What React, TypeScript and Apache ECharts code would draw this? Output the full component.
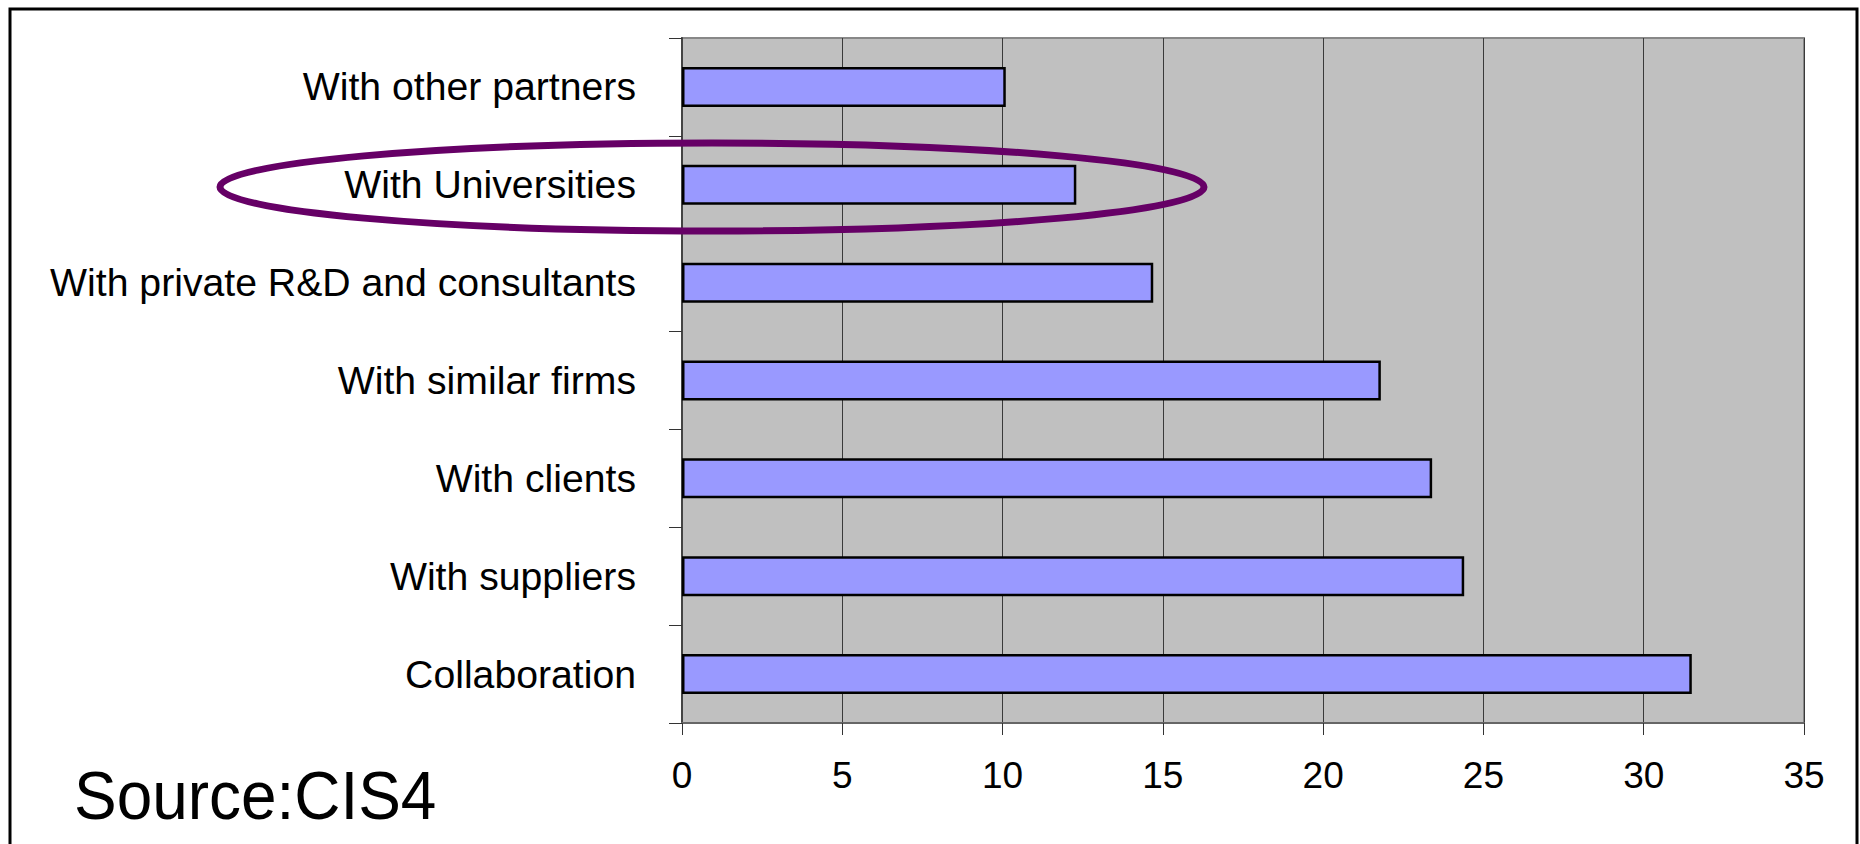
import React, { useEffect, useRef } from "react";
import * as echarts from "echarts";

// bottom-to-top order on the category axis
const categories = [
  "Collaboration",
  "With suppliers",
  "With clients",
  "With similar firms",
  "With private R&D and consultants",
  "With Universities",
  "With other partners",
];
const values = [31.5, 24.4, 23.4, 21.8, 14.7, 12.3, 10.1];
const xMin = 0;
const xMax = 35;
const xStep = 5;
const sourceLabel = "Source:CIS4";

const FONT = "'Liberation Sans', Arial, sans-serif";

export default function App() {
  const ref = useRef<HTMLDivElement>(null);
  useEffect(() => {
    document.body.style.margin = "0";
    const chart = echarts.init(ref.current!, null, { renderer: "svg" });
    chart.setOption({
      animation: false,
      backgroundColor: "#ffffff",
      grid: {
        left: 682,
        top: 38,
        right: 56,
        bottom: 121,
        show: true,
        backgroundColor: "#c0c0c0",
        borderColor: "#888888",
        borderWidth: 2,
      },
      xAxis: {
        type: "value",
        min: xMin,
        max: xMax,
        interval: xStep,
        axisLine: { show: true, lineStyle: { color: "#666666", width: 2 } },
        axisTick: { show: true, length: 12, lineStyle: { color: "#333333", width: 1 } },
        splitLine: { show: true, lineStyle: { color: "#3a3a3a", width: 1 } },
        axisLabel: {
          color: "#000000",
          fontSize: 37,
          fontFamily: FONT,
          margin: 34,
        },
      },
      yAxis: {
        type: "category",
        data: categories,
        axisLine: { show: true, lineStyle: { color: "#444444", width: 2 } },
        axisTick: { show: true, length: 13, lineStyle: { color: "#333333", width: 1 } },
        splitLine: { show: false },
        axisLabel: {
          color: "#000000",
          fontSize: 39.2,
          fontFamily: FONT,
          margin: 46,
        },
      },
      series: [
        {
          type: "bar",
          data: values,
          barWidth: 40,
          itemStyle: {
            color: "#9999ff",
            borderColor: "#000000",
            borderWidth: 2.5,
          },
        },
      ],
      graphic: [
        {
          type: "rect",
          z: 100,
          shape: { x: 10, y: 9, width: 1847, height: 900 },
          style: { fill: "transparent", stroke: "#000000", lineWidth: 3 },
          silent: true,
        },
        {
          type: "ellipse",
          z: 100,
          shape: { cx: 712, cy: 187, rx: 492, ry: 44 },
          style: { fill: "transparent", stroke: "#660066", lineWidth: 7 },
          silent: true,
        },
        {
          type: "text",
          z: 100,
          x: 74,
          y: 795,
          scaleX: 0.94,
          style: {
            text: sourceLabel,
            font: `68px ${FONT}`,
            fill: "#000000",
            textAlign: "left",
            textVerticalAlign: "middle",
          },
          silent: true,
        },
      ],
    });
    return () => chart.dispose();
  }, []);
  return (
    <div
      ref={ref}
      style={{ position: "absolute", left: 0, top: 0, width: 1860, height: 844 }}
    />
  );
}
